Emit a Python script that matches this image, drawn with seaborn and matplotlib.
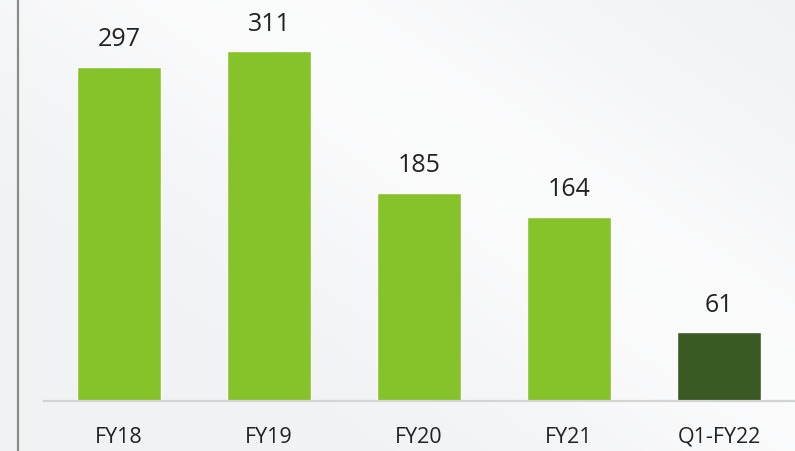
import numpy as np
import pandas as pd
import matplotlib
matplotlib.use("Agg")
import matplotlib.pyplot as plt
from matplotlib.lines import Line2D
import seaborn as sns

# Values per period
periods = ["FY18", "FY19", "FY20", "FY21", "Q1-FY22"]
values = [297, 311, 185, 164, 61]
bar_colors = ["#86C229", "#86C229", "#86C229", "#86C229", "#3A5A24"]

df = pd.DataFrame({"period": periods, "value": values})

sns.set_theme(style="white")
plt.rcParams["font.family"] = ["Open Sans", "DejaVu Sans"]

W, H = 795, 451
fig = plt.figure(figsize=(W / 100, H / 100), dpi=100)
fig.patch.set_facecolor("#f2f3f5")

# soft light backdrop with a pale diagonal sheen
bg = fig.add_axes([0, 0, 1, 1], zorder=-10)
yy, xx = np.mgrid[0:1:200j, 0:1:350j]
d = xx * 0.55 + (1 - yy) * 0.45
sheen = np.exp(-((d - 0.62) / 0.22) ** 2)
base = np.array([0.945, 0.950, 0.958])
img = base[None, None, :] + (1 - base)[None, None, :] * 0.7 * sheen[..., None]
bg.imshow(img, extent=[0, 1, 0, 1], aspect="auto", origin="upper")
bg.set_axis_off()

left, right = 44 / W, 794 / W
bottom, top = (H - 401) / H, 1.0
ax = fig.add_axes([left, bottom, right - left, top - bottom])
ax.set_facecolor("none")

sns.barplot(data=df, x="period", y="value", hue="period", palette=bar_colors,
            width=0.56, legend=False, ax=ax, saturation=1)

ax.set_xlim(-0.5, 4.5)
ax.set_ylim(0, 356.5)
ax.set_xlabel("")
ax.set_ylabel("")
ax.set_yticks([])
for s in ["top", "right", "left"]:
    ax.spines[s].set_visible(False)
ax.spines["bottom"].set_color("#d4d4d4")
ax.spines["bottom"].set_linewidth(1.6)
ax.tick_params(axis="x", length=0, pad=18.5, labelsize=15.5, labelcolor="#222222")

for i, v in enumerate(values):
    ax.annotate(f"{v}", (i, v), xytext=(0, 10.5), textcoords="offset points",
                ha="center", va="bottom", fontsize=18, color="#222222")

# vertical rule on the left edge
fig.add_artist(Line2D([17.5 / W, 17.5 / W], [0, 1], color="#8c8c8c",
                      linewidth=1.6, transform=fig.transFigure))

fig.savefig("out.png", dpi=100, facecolor=fig.get_facecolor())
